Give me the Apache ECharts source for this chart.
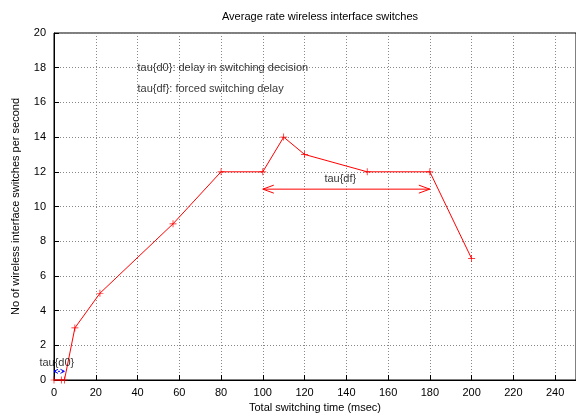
<!DOCTYPE html>
<html>
<head>
<meta charset="utf-8">
<script src="https://cdn.jsdelivr.net/npm/echarts@6/dist/echarts.min.js"></script>
<style>html,body{margin:0;padding:0;background:#fff}#c{width:576px;height:415px}</style>
</head>
<body>
<div id="c"></div>
<script>
var xValues = [0, 3.5, 5, 10, 22, 57, 80, 100, 110, 120, 150, 180, 200];
var yValues = [0, 0, 0, 3, 5, 9, 12, 12, 14, 13, 12, 12, 7];
var xTicks = [0, 20, 40, 60, 80, 100, 120, 140, 160, 180, 200, 220, 240];
var yTicks = [0, 2, 4, 6, 8, 10, 12, 14, 16, 18, 20];
var titleText = 'Average rate wireless interface switches';
var xName = 'Total switching time (msec)';
var yName = 'No of wireless interface switches per second';
var noteLines = ['tau{d0}: delay in switching decision', 'tau{df}: forced switching delay'];
// arrows: x1, y1, x2, y2
var d0Arrow = [0, 0.5, 5, 0.5];
var dfArrow = [100, 11, 180, 11];

var FONT = 'Liberation Sans, Arial, sans-serif';
var plus = 'path://M4.5,0h1v4.5h4.5v1h-4.5v4.5h-1v-4.5h-4.5v-1h4.5z';

function arrowRenderer(color, dash, headLen, headHalf) {
  return function (params, api) {
    var p1 = api.coord([api.value(0), api.value(1)]);
    var p2 = api.coord([api.value(2), api.value(3)]);
    var style = {stroke: color, lineWidth: 1, fill: null};
    var lineStyle = {stroke: color, lineWidth: 1, lineDash: dash};
    return {
      type: 'group',
      children: [
        {type: 'line', shape: {x1: p1[0], y1: p1[1], x2: p2[0], y2: p2[1]}, style: lineStyle},
        {type: 'polyline', shape: {points: [[p1[0] + headLen, p1[1] - headHalf], [p1[0], p1[1]], [p1[0] + headLen, p1[1] + headHalf]]}, style: style},
        {type: 'polyline', shape: {points: [[p2[0] - headLen, p2[1] - headHalf], [p2[0], p2[1]], [p2[0] - headLen, p2[1] + headHalf]]}, style: style}
      ]
    };
  };
}

var chart = echarts.init(document.getElementById('c'), null, {renderer: 'canvas'});
var axisCommon = {
  axisLine: {show: true, onZero: false, lineStyle: {color: '#000', width: 1}},
  axisTick: {show: true, inside: true, length: 5, lineStyle: {color: '#000'}},
  splitLine: {show: true, lineStyle: {color: '#888', type: [1, 2], width: 1}}
};
chart.setOption({
  animation: false,
  backgroundColor: '#fff',
  title: {text: titleText, left: 315, top: 6, textAlign: 'center',
    textStyle: {fontFamily: FONT, fontSize: 11, fontWeight: 'normal', color: '#000'}},
  grid: {left: 54, right: 0, top: 33, bottom: 35, containLabel: false, outerBoundsMode: 'none',
    show: true, borderColor: '#000', borderWidth: 1},
  xAxis: Object.assign({}, axisCommon, {
    type: 'value', min: 0, max: 250, interval: 20,
    name: xName, nameLocation: 'middle', nameGap: 22,
    nameTextStyle: {fontFamily: FONT, fontSize: 11, color: '#000'},
    axisLabel: {color: '#000', fontFamily: FONT, fontSize: 11, margin: 7, showMaxLabel: false,
      formatter: function (v) { return xTicks.indexOf(v) >= 0 ? String(v) : ''; }}
  }),
  yAxis: Object.assign({}, axisCommon, {
    type: 'value', min: 0, max: 20, interval: 2,
    name: yName, nameLocation: 'middle', nameGap: 33, nameRotate: 90,
    nameTextStyle: {fontFamily: FONT, fontSize: 11, color: '#000'},
    axisLabel: {color: '#000', fontFamily: FONT, fontSize: 11, margin: 8,
      formatter: function (v) { return yTicks.indexOf(v) >= 0 ? String(v) : ''; }}
  }),
  series: [
    {
      type: 'line',
      data: xValues.map(function (x, i) { return [x, yValues[i]]; }),
      symbol: plus, symbolSize: 7,
      showAllSymbol: true,
      clip: false,
      lineStyle: {color: '#ff0000', width: 1},
      itemStyle: {color: '#ff0000'},
      z: 5
    },
    {
      type: 'custom',
      silent: true,
      clip: false,
      z: 4,
      renderItem: arrowRenderer('#ff0000', null, 11, 4),
      data: [dfArrow]
    },
    {
      type: 'custom',
      silent: true,
      clip: false,
      z: 4,
      renderItem: arrowRenderer('#0000ff', [2, 2], 4, 2),
      data: [d0Arrow]
    },
    {
      type: 'scatter',
      symbolSize: 0,
      silent: true,
      clip: false,
      z: 6,
      label: {show: true, position: 'right', distance: 0, fontFamily: FONT, fontSize: 11, color: '#000',
        formatter: function (p) { return p.data[2]; }},
      data: [
        [40, 18, noteLines[0]],
        [40, 16.8, noteLines[1]],
        [129.5, 11.6, 'tau{df}'],
        [-7, 1, 'tau{d0}']
      ]
    }
  ]
});
</script>
</body>
</html>
